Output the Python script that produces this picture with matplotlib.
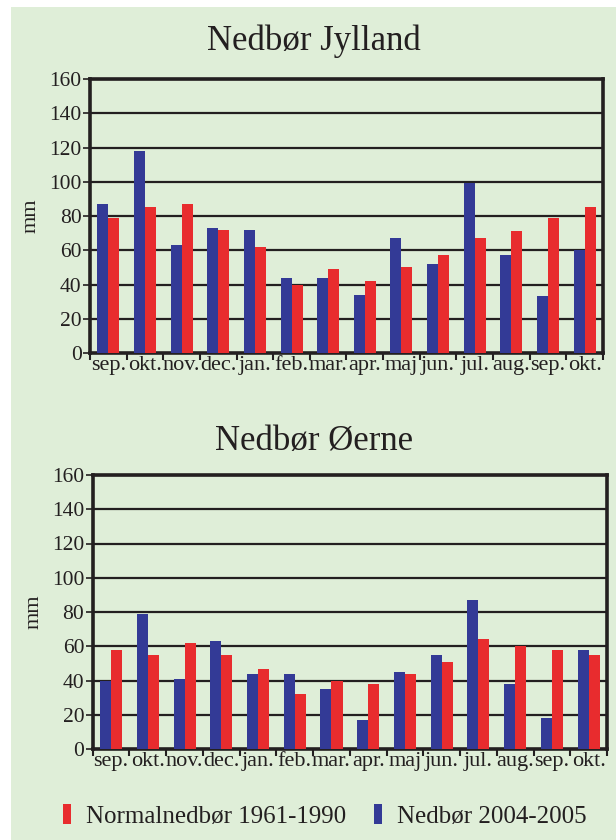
import numpy as np
import matplotlib
matplotlib.use("Agg")
import matplotlib.pyplot as plt
from matplotlib.patches import Rectangle, Patch

plt.rcParams['font.family'] = ['Liberation Serif', 'DejaVu Serif']

# Months from Sept 2004 to Oct 2005
months = ["sep.", "okt.", "nov.", "dec.", "jan.", "feb.", "mar.",
          "apr.", "maj", "jun.", "jul.", "aug.", "sep.", "okt."]

# Jylland (mm)
jylland_2004_2005 = [87, 118, 63, 73, 72, 44, 44, 34, 67, 52, 99, 57, 33, 60]
jylland_normal = [79, 85, 87, 72, 62, 40, 49, 42, 50, 57, 67, 71, 79, 85]

# Øerne (mm)
oerne_2004_2005 = [40, 79, 41, 63, 44, 44, 35, 17, 45, 55, 87, 38, 18, 58]
oerne_normal = [58, 55, 62, 55, 47, 32, 40, 38, 44, 51, 64, 60, 58, 55]

yticks = [0, 20, 40, 60, 80, 100, 120, 140, 160]

BG = "#dfeed8"
BLUE = "#333a96"
RED = "#e82c2e"
TXT = "#231f20"

W, H = 616, 840
fig = plt.figure(figsize=(W / 100, H / 100), dpi=100, facecolor="white")
fig.patches.append(Rectangle((11 / W, 0), 1 - 11 / W, 1 - 7 / H,
                             transform=fig.transFigure, facecolor=BG,
                             edgecolor="none", zorder=-10))


def draw_panel(rect, title, blue_vals, red_vals, title_y):
    ax = fig.add_axes(rect)
    ax.set_facecolor(BG)
    x = np.arange(len(months))
    ax.bar(x - 0.15, blue_vals, width=0.30, color=BLUE, zorder=3)
    ax.bar(x + 0.15, red_vals, width=0.30, color=RED, zorder=3)

    ax.set_xlim(-0.5, len(months) - 0.5)
    ax.set_ylim(0, 160)
    ax.set_yticks(yticks)
    ax.set_yticklabels([str(v) for v in yticks], fontsize=15.5, color=TXT)
    for v in yticks[1:]:
        ax.axhline(v, color=TXT, lw=1.6, zorder=1)

    ax.set_xticks(x)
    ax.set_xticklabels(months, fontsize=16, color=TXT)
    ax.set_xticks(np.arange(-0.5, len(months)), minor=True)
    ax.tick_params(axis="x", which="major", length=0, pad=2)
    ax.tick_params(axis="x", which="minor", length=5, width=1.5, color=TXT)
    ax.tick_params(axis="y", length=5, width=1.2, color=TXT, pad=1)

    for s in ax.spines.values():
        s.set_linewidth(2.6)
        s.set_color(TXT)
    ax.set_ylabel("mm", fontsize=16, color=TXT, labelpad=6)

    fig.text(314 / W, title_y, title, fontsize=25, color=TXT,
             ha="center", va="baseline")
    return ax


draw_panel([90 / W, 1 - 353 / H, 513 / W, 274 / H], "Nedbør Jylland",
           jylland_2004_2005, jylland_normal, 1 - 50 / H)
draw_panel([92.7 / W, 1 - 749 / H, 514.3 / W, 274 / H], "Nedbør Øerne",
           oerne_2004_2005, oerne_normal, 1 - 450 / H)

handles = [Patch(facecolor=RED, edgecolor="none"),
           Patch(facecolor=BLUE, edgecolor="none")]
fig.legend(handles, ["Normalnedbør 1961-1990", "Nedbør 2004-2005"],
           loc="center", bbox_to_anchor=(325 / W, 1 - 816 / H), ncol=2,
           frameon=False, fontsize=18, handlelength=0.32, handleheight=0.8,
           handletextpad=0.6, columnspacing=1.1, labelcolor=TXT)

fig.savefig("out.png", dpi=100, facecolor="white")
